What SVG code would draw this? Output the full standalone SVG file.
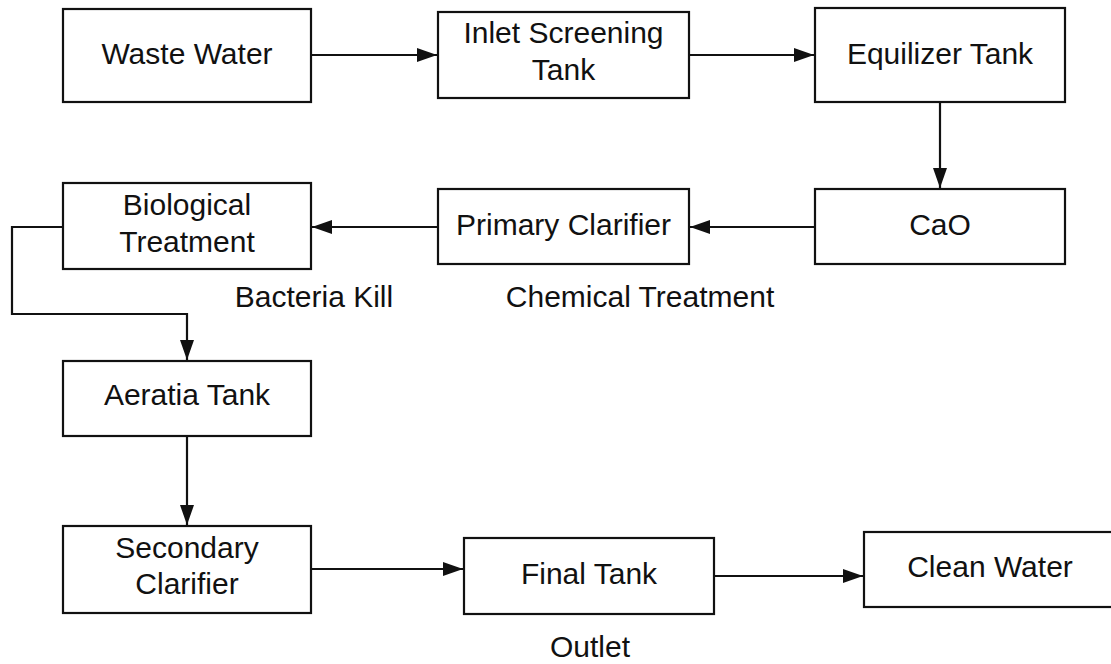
<svg xmlns="http://www.w3.org/2000/svg" width="1111" height="664" viewBox="0 0 1111 664">
<style>
.box{fill:#fff;stroke:#111;stroke-width:2.2}
.t{font-family:"Liberation Sans",Arial,sans-serif;font-size:30px;fill:#111;text-anchor:middle}
.c{fill:none;stroke:#111;stroke-width:2.2}
</style>
<defs>
<marker id="ah" viewBox="0 0 20 14" refX="20" refY="7" markerWidth="20" markerHeight="14" markerUnits="userSpaceOnUse" orient="auto">
<path d="M0,0 L20,7 L0,14 Z" fill="#111"/>
</marker>
</defs>
<rect width="1111" height="664" fill="#fff"/>
<g id="connectors">
<path class="c" d="M311,55 H437" marker-end="url(#ah)"/>
<path class="c" d="M689,55 H814" marker-end="url(#ah)"/>
<path class="c" d="M940,102 V188" marker-end="url(#ah)"/>
<path class="c" d="M815,227 H690" marker-end="url(#ah)"/>
<path class="c" d="M438,227 H312" marker-end="url(#ah)"/>
<path class="c" d="M63,227 H12 V314 H187 V360" marker-end="url(#ah)"/>
<path class="c" d="M187,436 V525" marker-end="url(#ah)"/>
<path class="c" d="M311,569 H463" marker-end="url(#ah)"/>
<path class="c" d="M714,576 H863" marker-end="url(#ah)"/>
</g>
<g id="waste-water"><rect class="box" x="63" y="9" width="248" height="93"/><text class="t" x="187" y="64">Waste Water</text></g>
<g id="inlet-screening"><rect class="box" x="438" y="12" width="251" height="86"/><text class="t" x="563.5" y="43">Inlet Screening</text><text class="t" x="563.5" y="80">Tank</text></g>
<g id="equilizer-tank"><rect class="box" x="815" y="8" width="250" height="94"/><text class="t" x="940" y="64">Equilizer Tank</text></g>
<g id="cao"><rect class="box" x="815" y="189" width="250" height="75"/><text class="t" x="940" y="235">CaO</text></g>
<g id="primary-clarifier"><rect class="box" x="438" y="189" width="251" height="75"/><text class="t" x="563.5" y="235">Primary Clarifier</text></g>
<g id="biological-treatment"><rect class="box" x="63" y="183" width="248" height="86"/><text class="t" x="187" y="215">Biological</text><text class="t" x="187" y="252">Treatment</text></g>
<g id="aeratia-tank"><rect class="box" x="63" y="361" width="248" height="75"/><text class="t" x="187" y="405">Aeratia Tank</text></g>
<g id="secondary-clarifier"><rect class="box" x="63" y="526" width="248" height="87"/><text class="t" x="187" y="558">Secondary</text><text class="t" x="187" y="594">Clarifier</text></g>
<g id="final-tank"><rect class="box" x="464" y="538" width="250" height="76"/><text class="t" x="589" y="584">Final Tank</text></g>
<g id="clean-water"><rect class="box" x="864" y="532" width="260" height="75"/><text class="t" x="990" y="577">Clean Water</text></g>
<g id="labels">
<text class="t" x="314" y="307">Bacteria Kill</text>
<text class="t" x="640" y="307">Chemical Treatment</text>
<text class="t" x="590" y="657">Outlet</text>
</g>
</svg>
